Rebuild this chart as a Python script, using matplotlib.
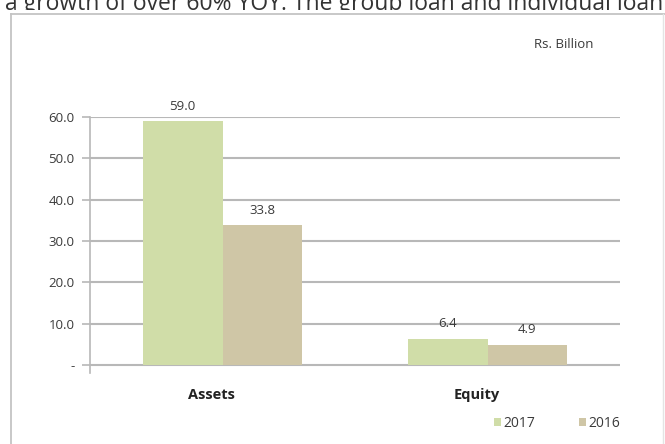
import matplotlib
matplotlib.use("Agg")
import matplotlib.pyplot as plt
import matplotlib.transforms as mtransforms
import numpy as np
from matplotlib.lines import Line2D
from matplotlib.patches import Rectangle

plt.rcParams['font.family'] = ['Open Sans', 'DejaVu Sans']

categories = ["Assets", "Equity"]
series_names = ["2017", "2016"]
values_2017 = [59.0, 6.4]
values_2016 = [33.8, 4.9]
ytick_values = [0, 10, 20, 30, 40, 50, 60]
ytick_labels = ["-", "10.0", "20.0", "30.0", "40.0", "50.0", "60.0"]
unit_label = "Rs. Billion"
header_text = "a growth of over 60% YOY. The group loan and individual loan"

col_2017 = "#d0dda8"
col_2016 = "#cfc6a6"
grid_col = "#b8b8b8"
text_col = "#3a3a3a"

W, H = 665, 444
fig = plt.figure(figsize=(W / 100, H / 100), dpi=100)
fig.patch.set_facecolor("white")

# axes placement in pixels: x 90..620, y 117 (60) .. 373 (axis end)
ax = fig.add_axes([90 / W, 1 - 373 / H, 530 / W, (373 - 117) / H])
ax.set_xlim(0, 2)
ax.set_ylim(-1.94, 60)

x = np.arange(len(categories)) + 0.5
bw = 0.30
b1 = ax.bar(x - bw / 2, values_2017, width=bw, color=col_2017, label=series_names[0], zorder=2)
b2 = ax.bar(x + bw / 2, values_2016, width=bw, color=col_2016, label=series_names[1], zorder=2)

for bars, vals in ((b1, values_2017), (b2, values_2016)):
    for rect, v in zip(bars, vals):
        ax.annotate(f"{v:.1f}", (rect.get_x() + rect.get_width() / 2, v),
                    xytext=(0, 6), textcoords="offset points",
                    ha="center", va="bottom", fontsize=9.5, color=text_col)

ax.set_yticks(ytick_values)
ax.set_yticklabels(ytick_labels, fontsize=9.5, color=text_col)
ax.tick_params(axis="y", direction="out", length=6, width=1.2, color=grid_col, pad=5)
for yv in ytick_values:
    ax.axhline(yv, color=grid_col, lw=1.5, zorder=1)

ax.set_xticks(x)
ax.set_xticklabels(categories, fontsize=10.5, fontweight="bold", color="#222222")
ax.tick_params(axis="x", length=0, pad=11)
shift = mtransforms.ScaledTranslation(-11 / 100, 0, fig.dpi_scale_trans)
for lbl in ax.get_xticklabels():
    lbl.set_transform(lbl.get_transform() + shift)

for s in ("top", "right", "bottom"):
    ax.spines[s].set_visible(False)
ax.spines["left"].set_color(grid_col)
ax.spines["left"].set_linewidth(1.2)

leg = fig.legend(handles=[b1, b2], labels=series_names, loc="center",
                 bbox_to_anchor=(557 / W, 1 - 423 / H), ncol=2, frameon=False,
                 fontsize=10, handlelength=0.5, handleheight=0.5,
                 handletextpad=0.2, columnspacing=3.1)
for t in leg.get_texts():
    t.set_color(text_col)

fig.text(564 / W, 1 - 45 / H, unit_label, ha="center", va="center",
         fontsize=9.5, color=text_col)

# surrounding panel frame
fig.add_artist(Line2D([11 / W, 11 / W], [0, 1 - 14 / H], color="#c4c4c4", lw=1.3,
                      transform=fig.transFigure))
fig.add_artist(Line2D([11 / W, 1], [1 - 14 / H, 1 - 14 / H], color="#c4c4c4", lw=1.3,
                      transform=fig.transFigure))
fig.add_artist(Line2D([663 / W, 663 / W], [0, 1 - 14 / H], color="#e4e4e4", lw=1.0,
                      transform=fig.transFigure))

# running text above the panel; only the part above the frame shows
header = fig.text(5 / W, 1 - 10 / H, header_text, ha="left", va="baseline",
                  fontsize=16.5, color="#333333")
clip_rect = Rectangle((0, 1 - 10.5 / H), 1, 10.5 / H, transform=fig.transFigure,
                      facecolor="none", edgecolor="none")
header.set_clip_path(clip_rect)

fig.savefig("out.png", dpi=100)
